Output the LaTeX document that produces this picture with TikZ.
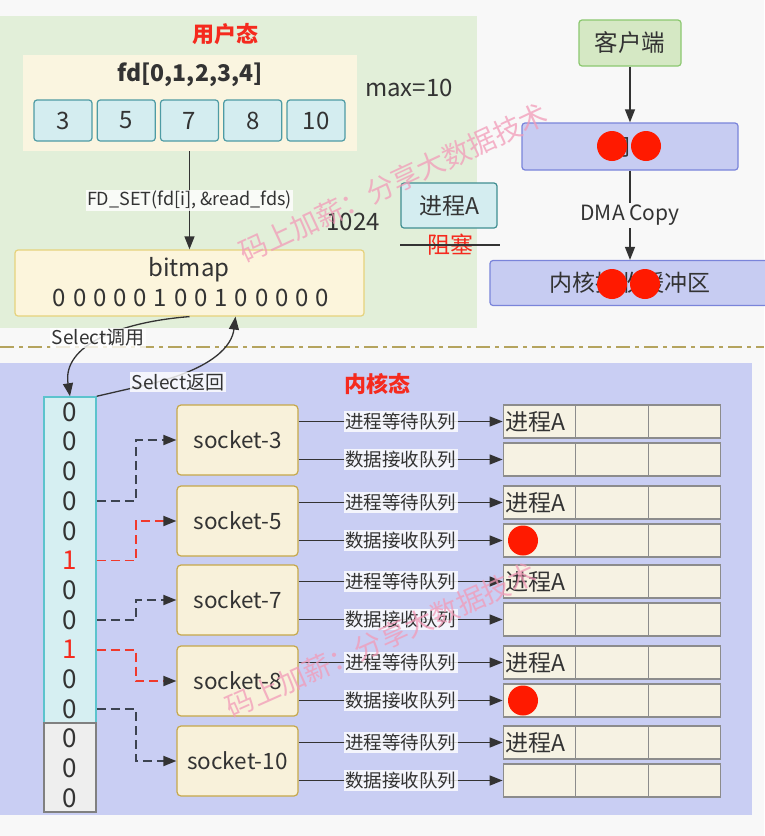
\documentclass[tikz,border=0pt]{standalone}
\usepackage{fontspec}
\setmainfont{Noto Sans CJK SC}
\usetikzlibrary{arrows.meta,calc}
\newcommand\myfs[1]{\fontsize{#1}{#1}\selectfont}
\definecolor{pagebg}{HTML}{F8F8F8}
\definecolor{greenp}{HTML}{E2EFD9}
\definecolor{creamA}{HTML}{FAF5E0}
\definecolor{cyanf}{HTML}{D4EDF0}
\definecolor{tealb}{HTML}{4E9BA4}
\definecolor{tealb2}{HTML}{3F8E91}
\definecolor{bmf}{HTML}{FCF5DC}
\definecolor{bmb}{HTML}{E6D27C}
\definecolor{txt}{HTML}{333333}
\definecolor{arrc}{HTML}{333333}
\definecolor{redt}{HTML}{F52A1E}
\definecolor{greenf}{HTML}{D5E8C4}
\definecolor{greenb}{HTML}{8CC870}
\definecolor{bluef}{HTML}{C7CCF2}
\definecolor{blueb}{HTML}{7A84DA}
\definecolor{dotred}{HTML}{FF1A00}
\definecolor{kernp}{HTML}{C9CEF3}
\definecolor{sepc}{HTML}{B5A45E}
\definecolor{colf}{HTML}{D6EFF2}
\definecolor{colb}{HTML}{5CC3CD}
\definecolor{grayf}{HTML}{EEEEEE}
\definecolor{grayb}{HTML}{808080}
\definecolor{sockf}{HTML}{F8F1DA}
\definecolor{sockb}{HTML}{C6A84A}
\definecolor{qf}{HTML}{F6F2E3}
\definecolor{qb}{HTML}{8C8C8C}
\definecolor{wm}{HTML}{F29BB8}
\definecolor{dkd}{HTML}{3C4350}
\definecolor{rdd}{HTML}{F0392C}
\begin{document}
\begin{tikzpicture}[x=1pt,y=-1pt,
  every node/.style={inner sep=0pt, text=txt},
  box/.style={draw, rounded corners=3pt, line width=1.2pt},
  cell/.style={box, draw=tealb, fill=cyanf, minimum width=58pt, minimum height=41pt, font=\myfs{24}},
  arr/.style={draw=arrc, line width=1.3pt, -{Triangle[length=13pt,width=10pt,color=arrc]}},
  lbl/.style={fill=white, fill opacity=0.8, text opacity=1, inner sep=1.5pt},
  dot/.style={circle, fill=dotred, minimum size=30pt},
  sock/.style={box, rounded corners=4pt, draw=sockb, fill=sockf, minimum width=121pt, minimum height=70pt, font=\myfs{22.5}},
  qcell/.style={draw=qb, fill=qf, line width=1.2pt, minimum width=72.5pt, minimum height=33pt},
  dk/.style={arr, draw=dkd, line width=1.8pt, dash pattern=on 9pt off 5pt},
  rd/.style={arr, draw=rdd, line width=1.8pt, dash pattern=on 9pt off 5pt},
  wmk/.style={font=\myfs{28}, text=wm, text opacity=0.75}
]
\fill[pagebg] (0,0) rectangle (764,836);
\useasboundingbox (0,0) rectangle (764,836);
\fill[greenp] (0,16) rectangle (477,328);
\fill[kernp] (0,363) rectangle (752,815);
\draw[sepc, line width=2.5pt, dash pattern=on 14pt off 5pt on 4pt off 5pt] (0,347) -- (764,347);

% user space
\node[font=\bfseries\myfs{22}, text=redt] (ulab) at (225,34) {用户态};
\node[fill=creamA, minimum width=334pt, minimum height=96pt] (fdarea) at (189.5,103) {};
\node[font=\bfseries\myfs{23}] (fdtitle) at (190,75) {fd[0,1,2,3,4]};
\foreach \v [count=\i] in {3,5,7,8,10} {
  \node[cell] (c\i) at ({63+63.25*(\i-1)},120.5) {\v};
}
\node[font=\myfs{24}] (maxv) at (409,88) {max=10};
\node[box, draw=bmb, fill=bmf, minimum width=349pt, minimum height=66pt] (bm) at (189.5,283) {};
\node[font=\myfs{24}] (bmt) at (189,270) {bitmap};
\node[font=\myfs{24}] (bmd) at (191,298) {\spaceskip=6.9pt\relax 0 0 0 0 0 1 0 0 1 0 0 0 0 0};
\draw[arr] (fdarea.south) -- (bm.north) node[midway, lbl, font=\myfs{18}] {FD\_SET(fd[i], \&read\_fds)};
\node[font=\myfs{24}] (n1024) at (353,222) {1024};
\node[box, draw=tealb2, fill=cyanf, minimum width=96pt, minimum height=45pt, font=\myfs{23}] (pa) at (449,205.5) {进程A};
\node[font=\myfs{23}, text=redt] (blk) at (450,245) {阻塞};
\draw[draw=arrc, line width=1.5pt] (pa.west |- blk.center) -- ([xshift=2pt]pa.east |- blk.center);

% right column
\node[box, draw=greenb, fill=greenf, minimum width=102pt, minimum height=46pt, font=\myfs{23.5}] (cli) at (630,43) {客户端};
\node[box, draw=blueb, fill=bluef, minimum width=216pt, minimum height=47pt, font=\myfs{23}] (nic) at (630,146.5) {网卡};
\node[box, draw=blueb, fill=bluef, minimum width=280pt, minimum height=45pt, font=\myfs{23}] (kb) at (630,283) {内核接收缓冲区};
\draw[arr] (cli) -- (nic);
\draw[arr] (nic) -- (kb) node[midway, fill=pagebg, inner sep=2pt, font=\myfs{21}] {DMA Copy};
\node[dot] (r1) at (612,146) {};
\node[dot] (r2) at (646,146) {};
\node[dot] (r3) at (612,284) {};
\node[dot] (r4) at (645,284) {};

% kernel space
\node[font=\bfseries\myfs{22}, text=redt] (klab) at (377,384) {内核态};
\node[draw=colb, fill=colf, line width=1.5pt, minimum width=52pt, minimum height=326pt] (colA) at (70,560) {};
\node[draw=grayb, fill=grayf, line width=1.5pt, minimum width=52pt, minimum height=89pt] (colB) at (70,767.5) {};
\foreach \d/\c [count=\i from 0] in {0/txt,0/txt,0/txt,0/txt,0/txt,1/redt,0/txt,0/txt,1/redt,0/txt,0/txt,0/txt,0/txt,0/txt} {
  \node[font=\myfs{26}, text=\c] (d\i) at (70,{412+29.7*\i}) {\d};
}
\foreach \n/\y in {3/440,5/521,7/600,8/681,10/761} {
  \node[sock] (s\n) at (237.5,\y) {socket-\n};
  \foreach \j/\x in {1/539.5,2/612,3/684.5} {
    \node[qcell] (qu\n-\j) at (\x,{\y-18.5}) {};
    \node[qcell] (ql\n-\j) at (\x,{\y+19.5}) {};
  }
  \node[font=\myfs{23}, anchor=west] (pA\n) at ([xshift=3pt]qu\n-1.west) {进程A};
  \draw[arr] (s\n.east |- qu\n-1.west) -- (qu\n-1.west) node[midway, lbl, font=\myfs{18.5}] {进程等待队列};
  \draw[arr] (s\n.east |- ql\n-1.west) -- (ql\n-1.west) node[midway, lbl, font=\myfs{18.5}] {数据接收队列};
}
\node[dot] (rd5) at (523,540.5) {};
\node[dot] (rd8) at (523,700.5) {};

\draw[dk] (colA.east |- d3) -- ++(39,0) |- (s3.west);
\draw[rd] (colA.east |- d5) -- ++(39,0) |- (s5.west);
\draw[dk] (colA.east |- d7) -- ++(39,0) |- (s7.west);
\draw[rd] (colA.east |- d8) -- ++(39,0) |- (s8.west);
\draw[dk] (colA.east |- d10) -- ++(39,0) |- (s10.west);

% select arrows
\draw[arr] (bm.south) .. controls (120,322) and (62,345) .. (colA.north);
\node[lbl, font=\myfs{19}] (selc) at (98,338) {Select调用};
\draw[arr] (colA.north east) -- (150,384) .. controls (215,368) and (232,345) .. ([xshift=46pt]bm.south);
\node[lbl, font=\myfs{19}] (selr) at (178,382) {Select返回};

% watermarks
\node[wmk, rotate=25] (wm1) at (393,183) {码上加薪：分享大数据技术};
\node[wmk, rotate=24] (wm2) at (381,640) {码上加薪：分享大数据技术};
\end{tikzpicture}
\end{document}
